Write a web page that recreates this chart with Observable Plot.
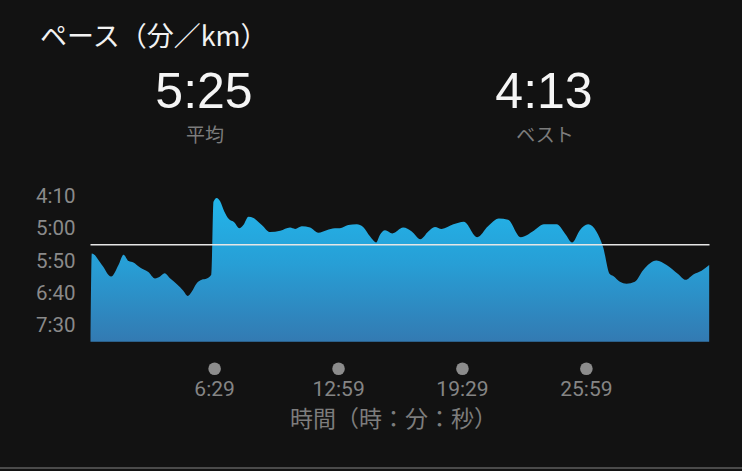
<!DOCTYPE html>
<html>
<head>
<meta charset="utf-8">
<script src="https://cdn.jsdelivr.net/npm/d3@7"></script>
<script src="https://cdn.jsdelivr.net/npm/@observablehq/plot@0.6"></script>
<style>
  html, body { margin: 0; padding: 0; background: #121212; }
  #page { position: relative; width: 742px; height: 471px; overflow: hidden; background: #121212; font-family: "Noto Sans CJK JP", "Noto Sans", sans-serif; }
  .abs { position: absolute; white-space: nowrap; }
  #title { left: 40px; top: 19px; font-size: 27px; line-height: 32px; color: #f2f2f2; }
  .big { font-family: "Liberation Sans", Roboto, sans-serif; font-size: 50px; line-height: 40px; color: #f5f5f5; transform: translateX(-50%); }
  .sub { font-size: 19px; line-height: 22px; color: #7c7c7c; transform: translateX(-50%); }
  #chart { position: absolute; left: 0; top: 170px; }
  #sep { position: absolute; left: 0; top: 467px; width: 742px; height: 2px; background: #4a4a4a; }
</style>
</head>
<body>
<div id="page">
  <div id="title" class="abs"></div>
  <div id="avgVal" class="abs big" style="left:204px; top:71px;"></div>
  <div id="avgLbl" class="abs sub" style="left:205px; top:122.5px;"></div>
  <div id="bestVal" class="abs big" style="left:544px; top:71px;"></div>
  <div id="bestLbl" class="abs sub" style="left:545px; top:122.5px;"></div>
  <div id="chart"></div>
  <div id="sep"></div>
</div>
<script>
// ---- data (seconds) ----
const titleText = "ペース（分／km）";
const avgLabel = "平均";
const bestLabel = "ベスト";
const xAxisLabel = "時間（時：分：秒）";
const avgPace = 325;   // 5:25
const bestPace = 253;  // 4:13
const times = [0, 4, 36, 65, 88, 104, 120, 135, 156, 182, 203, 219, 233, 251, 272, 292, 306, 319, 335, 350, 366, 380, 387, 397, 408, 421, 434, 453, 468, 481, 497, 513, 539, 565, 597, 628, 644, 665, 691, 717, 743, 769, 785, 811, 838, 858, 880, 899, 911, 927, 950, 984, 1011, 1038, 1063, 1084, 1105, 1142, 1175, 1217, 1251, 1285, 1314, 1354, 1395, 1427, 1467, 1493, 1516, 1540, 1566, 1592, 1613, 1634, 1645, 1666, 1687, 1713, 1739, 1781, 1813, 1849, 1873, 1896, 1923, 1947];
const paces = [475, 339, 357, 375, 357, 341, 351, 353, 361, 368, 378, 375, 370, 378, 387, 397, 405, 398, 385, 380, 378, 372, 259, 253, 258, 274, 285, 291, 300, 295, 282, 284, 295, 306, 304, 299, 301, 297, 299, 307, 303, 300, 300, 295, 294, 298, 313, 322, 310, 303, 308, 299, 305, 317, 305, 298, 301, 294, 290, 314, 297, 285, 287, 314, 304, 294, 294, 308, 322, 303, 294, 305, 329, 371, 374, 383, 386, 383, 365, 350, 357, 371, 380, 372, 366, 357];
const yTicks = [250, 300, 350, 400, 450];
const xTicks = [389, 779, 1169, 1559];
const xDomain = [0, 1948];
const yDomain = [250, 476];

const fmt = s => Math.floor(s / 60) + ":" + String(Math.round(s % 60)).padStart(2, "0");

document.getElementById("title").textContent = titleText;
document.getElementById("avgVal").textContent = fmt(avgPace);
document.getElementById("avgLbl").textContent = avgLabel;
document.getElementById("bestVal").textContent = fmt(bestPace);
document.getElementById("bestLbl").textContent = bestLabel;

const data = times.map((t, i) => ({t, pace: paces[i]}));

function gradientDefs() {
  const ns = "http://www.w3.org/2000/svg";
  const defs = document.createElementNS(ns, "defs");
  const g = document.createElementNS(ns, "linearGradient");
  g.setAttribute("id", "paceGrad");
  g.setAttribute("x1", "0"); g.setAttribute("y1", "0");
  g.setAttribute("x2", "0"); g.setAttribute("y2", "1");
  [["0%", "#22b5ea"], ["45%", "#279fd6"], ["100%", "#337ab2"]].forEach(([o, c]) => {
    const s = document.createElementNS(ns, "stop");
    s.setAttribute("offset", o); s.setAttribute("stop-color", c);
    g.appendChild(s);
  });
  defs.appendChild(g);
  return defs;
}

const chart = Plot.plot({
  width: 742,
  height: 300,
  marginLeft: 90.5,
  marginRight: 32.5,
  marginTop: 26,
  marginBottom: 128.3,
  style: {background: "transparent", color: "#8a8a8a", fontFamily: "Roboto, 'Liberation Sans', sans-serif", overflow: "visible"},
  x: {domain: xDomain, axis: null},
  y: {domain: yDomain, reverse: true, axis: null},
  marks: [
    gradientDefs,
    Plot.areaY(data, {x: "t", y1: yDomain[1], y2: "pace", fill: "url(#paceGrad)", curve: "monotone-x"}),
    Plot.ruleY([avgPace], {stroke: "#e6e6e6", strokeWidth: 1.5}),
    Plot.text(yTicks, {y: d => d, text: d => fmt(d), frameAnchor: "left", dx: -15.5, textAnchor: "end", fontSize: 20.5, fill: "#8a8a8a"}),
    Plot.dot(xTicks, {x: d => d, frameAnchor: "bottom", dy: 26.6, r: 6.3, fill: "#8c8c8c", stroke: "none"}),
    Plot.text(xTicks, {x: d => d, text: d => fmt(d), frameAnchor: "bottom", dy: 53.3, fontSize: 21, fill: "#858585"}),
    Plot.text([xAxisLabel], {text: d => d, frameAnchor: "bottom", dx: -7, dy: 85, fontSize: 23, fill: "#7d7d7d", fontFamily: "'Noto Sans CJK JP', sans-serif"})
  ]
});
document.getElementById("chart").appendChild(chart);
</script>
</body>
</html>
